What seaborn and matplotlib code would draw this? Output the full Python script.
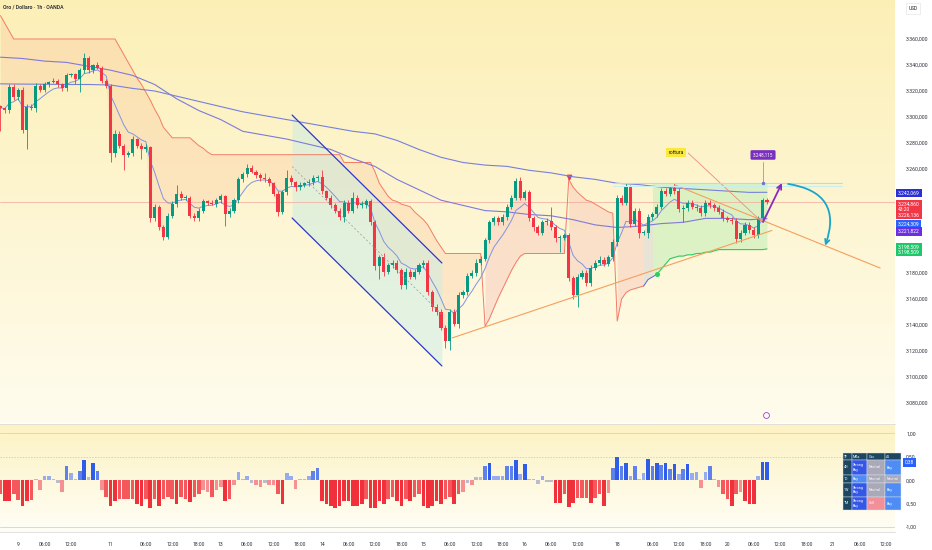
import matplotlib
matplotlib.use('Agg')
import matplotlib.pyplot as plt
import matplotlib.colors as mcolors
import matplotlib.transforms as mtransforms
from matplotlib.patches import FancyArrowPatch
import seaborn as sns
import numpy as np
import pandas as pd

# Oro / Dollaro 1h (OANDA)
closes = [3307, 3305, 3323, 3315, 3321, 3290, 3308, 3307, 3324, 3321,
          3325, 3327, 3328, 3325, 3322, 3332, 3333, 3329, 3336, 3345,
          3336, 3340, 3338, 3328, 3324, 3272, 3287, 3278, 3271, 3272,
          3283, 3278, 3275, 3277, 3222, 3231, 3215, 3208, 3224, 3233,
          3241, 3238, 3238, 3224, 3222, 3228, 3235, 3234, 3233, 3236,
          3239, 3225, 3228, 3236, 3252, 3256, 3261, 3258, 3255, 3253,
          3252, 3249, 3241, 3227, 3242, 3253, 3250, 3246, 3248, 3249,
          3250, 3253, 3254, 3243, 3238, 3232, 3228, 3223, 3234, 3228,
          3238, 3232, 3232, 3235, 3219, 3185, 3192, 3181, 3186, 3188,
          3182, 3171, 3181, 3177, 3181, 3186, 3188, 3165, 3154, 3150,
          3138, 3128, 3150, 3141, 3163, 3165, 3178, 3180, 3188, 3191,
          3205, 3219, 3222, 3219, 3223, 3231, 3238, 3251, 3238, 3242,
          3222, 3215, 3211, 3219, 3220, 3215, 3207, 3207, 3209, 3176,
          3163, 3177, 3180, 3172, 3184, 3188, 3190, 3187, 3192, 3204,
          3238, 3234, 3246, 3218, 3228, 3211, 3211, 3223, 3225, 3231,
          3243, 3241, 3245, 3243, 3229, 3230, 3234, 3231, 3230, 3226,
          3234, 3232, 3230, 3227, 3222, 3221, 3220, 3206, 3211, 3217,
          3213, 3209, 3222, 3236, 3234.86]
first_open = 3308.5

wick_up = [1, 1, 2, 2, 1, 2, 2, 2, 2, 1,
           2, 1, 2, 1, 1, 2, 1, 1, 2, 4,
           2, 1, 2, 1, 1, 1, 3, 2, 1, 2,
           2, 1, 2, 2, 1, 2, 1, 2, 2, 2,
           7, 2, 2, 1, 2, 2, 2, 1, 2, 2,
           2, 1, 2, 2, 2, 2, 3, 2, 1, 2,
           4, 2, 1, 2, 2, 6, 2, 1, 2, 1,
           2, 2, 1, 5, 1, 2, 2, 2, 2, 2,
           4, 2, 3, 2, 2, 2, 2, 3, 2, 2,
           2, 2, 3, 2, 2, 2, 2, 2, 2, 2,
           2, 2, 2, 2, 2, 2, 2, 2, 3, 2,
           2, 2, 2, 2, 2, 2, 2, 2, 3, 2,
           2, 2, 2, 2, 2, 11, 2, 2, 2, 2,
           2, 2, 2, 2, 2, 2, 3, 2, 2, 2,
           2, 2, 3, 2, 2, 2, 2, 2, 2, 2,
           2, 2, 2, 4, 2, 2, 2, 2, 2, 2,
           2, 2, 2, 2, 2, 2, 2, 2, 2, 2,
           2, 2, 2, 2, 2]
wick_dn = [18, 2, 2, 2, 2, 2, 15, 2, 3, 2,
           2, 2, 1, 2, 2, 2, 1, 4, 10, 2,
           2, 2, 1, 2, 2, 7, 3, 2, 12, 2,
           2, 2, 7, 2, 3, 2, 2, 3, 2, 2,
           2, 2, 2, 2, 2, 2, 2, 2, 1, 2,
           2, 9, 2, 2, 2, 2, 2, 1, 2, 2,
           2, 2, 2, 3, 2, 2, 2, 3, 2, 2,
           2, 2, 2, 2, 2, 2, 2, 2, 4, 2,
           2, 2, 2, 2, 2, 3, 10, 3, 2, 2,
           2, 3, 3, 2, 2, 2, 2, 2, 3, 2,
           2, 6, 7, 2, 3, 2, 2, 2, 2, 2,
           2, 2, 2, 2, 2, 2, 2, 2, 2, 2,
           2, 3, 2, 2, 2, 2, 3, 11, 2, 2,
           3, 9, 2, 2, 2, 2, 2, 2, 2, 3,
           3, 2, 2, 3, 2, 4, 2, 4, 2, 2,
           2, 2, 2, 2, 2, 10, 2, 2, 2, 2,
           2, 2, 2, 2, 2, 2, 2, 3, 2, 2,
           2, 2, 2, 2, 2]

# trailing band (step line)
band = [3378, 3372, 3366, 3360, 3360, 3360, 3360, 3360, 3360, 3360,
        3360, 3360, 3360, 3360, 3360, 3360, 3360, 3360, 3360, 3360,
        3360, 3360, 3360, 3360, 3360, 3360, 3360, 3354, 3348, 3342,
        3336, 3330, 3325, 3319, 3313, 3306, 3300, 3292, 3288, 3284,
        3284, 3284, 3284, 3284, 3281, 3278, 3276, 3273, 3271, 3271,
        3271, 3271, 3271, 3271, 3271, 3271, 3271, 3271, 3271, 3271,
        3271, 3271, 3271, 3271, 3271, 3271, 3271, 3271, 3271, 3271,
        3271, 3271, 3271, 3271, 3271, 3271, 3271, 3271, 3265, 3265,
        3265, 3265, 3265, 3265, 3265, 3258, 3249, 3244, 3239, 3236,
        3235, 3233, 3232, 3231, 3227, 3224, 3221, 3217, 3211, 3205,
        3200, 3195, 3195, 3195, 3195, 3195, 3195, 3195, 3195, 3195,
        3139, 3145, 3153, 3161, 3168, 3175, 3182, 3188, 3193, 3195,
        3195, 3195, 3195, 3195, 3195, 3195, 3195, 3195, 3195, 3252,
        3246, 3242, 3239, 3236, 3235, 3233, 3231, 3229, 3227, 3226,
        3143, 3160, 3165, 3167, 3168, 3169, 3170, 3175, 3177, 3179,
        3183, 3187, 3191, 3192, 3193, 3193, 3194, 3194, 3195, 3195,
        3196, 3196, 3197, 3198, 3198, 3198, 3198, 3198, 3198, 3198,
        3198, 3198, 3198, 3198, 3198.5]
green_zone_top = 3249

# slow averages, read every 5 bars
ma_bars = list(range(0, 171, 5)) + [174]
ma_fast50 = [3346, 3345, 3343, 3342, 3339, 3336, 3332, 3325, 3314, 3305,
             3298, 3289, 3286, 3283, 3279, 3275, 3268, 3262, 3252, 3244,
             3236, 3232, 3228, 3227, 3225, 3224, 3221, 3217, 3215, 3216,
             3218, 3219, 3222, 3222, 3221, 3221.8]
ma_slow200 = [3325.5, 3325.3, 3325.2, 3325, 3325, 3324.6, 3322, 3320, 3316, 3312,
              3308, 3304, 3301, 3298, 3295, 3292, 3289, 3287, 3282, 3275,
              3269, 3265, 3263, 3262, 3259, 3257, 3254, 3252, 3249, 3248,
              3246, 3245, 3244, 3243, 3242, 3242.07]

# technical rating histogram (lower panel)
rating = [-0.30, -0.45, -0.45, -0.30, -0.42, -0.56, -0.45, -0.42, 0.02, -0.20,
          0.10, 0.10, 0.02, -0.05, -0.25,
          0.30, 0.15, 0.02, 0.20, 0.43, 0.08, 0.36, 0.20,
          -0.20, -0.35, -0.55, -0.45, -0.40, -0.40, -0.40, -0.40, -0.50, -0.55,
          -0.40, -0.60, -0.40, -0.55, -0.40, -0.35, -0.40, -0.50, -0.35, -0.40,
          -0.47, -0.35, -0.30, -0.20, -0.25, -0.35, -0.20, -0.15, -0.45, -0.40, -0.10,
          0.17, 0.02, 0.10, -0.05, -0.10, -0.15, -0.05, -0.10, -0.10, -0.30,
          -0.50, 0.15, 0.10, -0.18, 0.02, 0.02, 0.10, 0.20, 0.27,
          -0.45, -0.50, -0.55, -0.60, -0.55, -0.45, -0.45, -0.55, -0.55, -0.50,
          -0.40, -0.60, -0.60, -0.45, -0.50, -0.40, -0.35, -0.45, -0.55, -0.40,
          -0.45, -0.35, -0.30, -0.55, -0.60, -0.55, -0.45, -0.50, -0.40, -0.35,
          -0.50, -0.30, -0.25,
          -0.05, -0.10, 0.08, 0.08, 0.30, 0.37, 0.10, 0.10, 0.10,
          0.30, 0.30, 0.43, 0.13, 0.35, 0.02, 0.02, -0.08, 0.10, -0.03, -0.03,
          -0.48, -0.48, -0.30, -0.58, -0.48, -0.38, -0.38, -0.38, -0.48, -0.38,
          -0.30, -0.55, -0.28,
          0.27, 0.50, 0.30, 0.37, 0.10, 0.30, 0.02,
          0.15, 0.45, 0.30, 0.37, 0.33, 0.37, 0.25, 0.35, 0.13, 0.25, 0.35, 0.15, 0.17,
          -0.17, 0.18, 0.30, 0.02,
          -0.15, -0.30, -0.40, -0.55, -0.30, -0.25, -0.45, -0.50, -0.50,
          0.10, 0.38, 0.38]

tick_bars = [4, 10, 16, 25, 33, 39, 45, 50, 56, 62, 68, 73, 79, 85, 91, 96, 102,
             108, 114, 119, 125, 131, 140, 148, 154, 160, 165, 171, 177, 183, 189, 195, 201]
tick_labels = ['9', '06:00', '12:00', '11', '06:00', '12:00', '18:00', '13', '06:00',
               '12:00', '18:00', '14', '06:00', '12:00', '18:00', '15', '06:00', '12:00',
               '18:00', '16', '06:00', '12:00', '18', '06:00', '12:00', '18:00', '20',
               '06:00', '12:00', '18:00', '21', '06:00', '12:00']
price_ticks = [3360, 3340, 3320, 3300, 3280, 3260, 3180, 3160, 3140, 3120, 3100, 3080]
osc_ticks = [1.0, 0.5, 0.0, -0.5, -1.0]

# drawn objects on the chart
chan_bars = [66.2, 100.2]
chan_top = [3301.5, 3187.7]
chan_bot = [3222.3, 3108.5]
support_bars = [102.5, 175.1]
support_line = [3130, 3212.7]
resist_bars = [153.1, 199.7]
resist_line = [3247.7, 3183.8]
break_bars = [156.1, 172.9]
break_line = [3272.3, 3219.2]
level_bars = [139.1, 191.0]
level_prices = [3249.2, 3247.0]

table_rows = [['TF', 'MAs', 'Osc', 'All'],
              ['4H', 'Strong\nBuy', 'Neutral', 'Buy'],
              ['1D', 'Buy', 'Neutral', 'Neutral'],
              ['1W', 'Strong\nBuy', 'Neutral', 'Buy'],
              ['1M', 'Strong\nBuy', 'Sell', 'Buy']]


def it_fmt(v, dec=3):
    s = f"{v:,.{dec}f}"
    return s.replace(',', '_').replace('.', ',').replace('_', '.')


def vgrad(ax, top, bottom):
    c1 = np.array(mcolors.to_rgb(top))
    c2 = np.array(mcolors.to_rgb(bottom))
    t = np.linspace(0, 1, 256)[:, None]
    img = (c1 * (1 - t) + c2 * t)[:, None, :]
    xl, yl = ax.get_xlim(), ax.get_ylim()
    ax.imshow(img, extent=(xl[0], xl[1], yl[0], yl[1]), aspect='auto',
              origin='upper', zorder=0)
    ax.set_xlim(xl)
    ax.set_ylim(yl)


sns.set_theme(style='white')
plt.rcParams['font.family'] = ['Roboto', 'DejaVu Sans']

df = pd.DataFrame({'close': closes})
df['bar'] = np.arange(len(df))
df['open'] = [first_open] + closes[:-1]
df['high'] = np.maximum(df['open'], df['close']) + np.array(wick_up)
df['low'] = np.minimum(df['open'], df['close']) - np.array(wick_dn)
df['band'] = band
df['ema'] = df['close'].ewm(span=7, adjust=False).mean()
x = df['bar'].values

fig = plt.figure(figsize=(9.32, 5.5), dpi=100)
fig.patch.set_facecolor('white')
W, H = 932, 550
ax = fig.add_axes([0, 1 - 423 / H, 895 / W, 423 / H])
axi = fig.add_axes([0, 1 - 532 / H, 895 / W, 108 / H])

xlim = (-0.11, 203.06)
ax.set_xlim(xlim)
ax.set_ylim(3064.6, 3390)
axi.set_xlim(xlim)
axi.set_ylim(-1.107, 1.203)
vgrad(ax, '#fcefb6', '#fffcee')
vgrad(axi, '#fcf2c2', '#fffef6')

# band fills
c = df['close'].values
b = df['band'].values
ax.fill_between(x[0:110], b[0:110], c[0:110], color='#fbc9a0', alpha=0.36, lw=0, zorder=1)
for s0, s1 in [(110, 129), (129, 140), (140, 147)]:
    ax.fill_between(x[s0:s1], b[s0:s1], c[s0:s1], color='#f6bdb4', alpha=0.38, lw=0, zorder=1)
ax.fill_between(x[146:149], b[146:149], c[146:149], color='#d5d5d5', alpha=0.55, lw=0, zorder=1)
ax.fill_between(x[148:], b[148:], green_zone_top, color='#c2efb8', alpha=0.55, lw=0, zorder=1)

# descending channel
ax.fill_between(chan_bars, chan_top, chan_bot, color='#c9ede4', alpha=0.5, lw=0, zorder=1.2)
ax.plot(chan_bars, chan_top, color='#2b39c9', lw=0.9, zorder=5)
ax.plot(chan_bars, chan_bot, color='#2b39c9', lw=0.9, zorder=5)
ax.plot(chan_bars, [(a + d) / 2 for a, d in zip(chan_top, chan_bot)],
        color='#9a9a9a', lw=0.5, ls=(0, (3, 3)), zorder=5)

# band line
ax.plot(x[0:147], b[0:147], color='#f47c66', lw=0.7, zorder=2)
ax.plot(x[146:150], b[146:150], color='#5468d8', lw=0.7, zorder=2)
ax.plot(x[149:], b[149:], color='#2fcc62', lw=0.8, zorder=2)
ax.plot([129], [3254], marker='v', color='#f23645', ms=3.2, zorder=3, ls='none')
ax.plot([149], [3179], marker='o', color='#2fcc62', ms=2.6, zorder=3, ls='none')

# averages
ma_df = pd.DataFrame({'bar': ma_bars, 'ma50': ma_fast50, 'ma200': ma_slow200})
sns.lineplot(data=ma_df, x='bar', y='ma50', ax=ax, color='#8079d9', lw=0.8, zorder=3)
sns.lineplot(data=ma_df, x='bar', y='ma200', ax=ax, color='#7780dd', lw=0.8, zorder=3)
sns.lineplot(data=df, x='bar', y='ema', ax=ax, color='#8094e2', lw=0.7, zorder=3)

# last price line
ax.axhline(closes[-1], color='#f4a59c', lw=0.5, zorder=1.5)

# candles
up = df['close'] >= df['open']
colors = np.where(up, '#089981', '#f23645')
ax.vlines(x, df['low'], df['high'], colors=colors, lw=0.6, zorder=4)
body = np.maximum((df['close'] - df['open']).abs(), 0.7)
ax.bar(x, body, bottom=np.minimum(df['open'], df['close']), width=0.7,
       color=colors, lw=0, zorder=4.5)

# trend lines and drawings
ax.plot(support_bars, support_line, color='#f5a05c', lw=0.8, zorder=5)
ax.plot(resist_bars, resist_line, color='#f5a05c', lw=0.8, zorder=5)
ax.plot(break_bars, break_line, color='#f08a80', lw=0.6, zorder=5)
ax.plot(level_bars, [level_prices[0]] * 2, color='#a6e4ea', lw=0.8, zorder=5)
ax.plot(level_bars, [level_prices[1]] * 2, color='#c7eff2', lw=0.8, zorder=5)

ax.annotate('', xy=(177.4, 3249.2), xytext=(173.1, 3219.2),
            arrowprops=dict(arrowstyle='->', color='#8a2bc0', lw=1.3,
                            mutation_scale=8, shrinkA=0, shrinkB=0), zorder=6)
arc = FancyArrowPatch((178.8, 3248.5), (187.2, 3201), connectionstyle='arc3,rad=-0.6',
                      arrowstyle='->', mutation_scale=8, color='#1aa6c8', lw=1.3,
                      shrinkA=0, shrinkB=0, zorder=6)
ax.add_patch(arc)

ax.plot([173.1, 173.1], [3265.4, 3249.6], color='#7c82d2', lw=0.5, zorder=6)
ax.plot([173.1], [3249.6], marker='o', color='#6d74cf', ms=1.5, zorder=6)
ax.text(173.1, 3270.8, it_fmt(3248.115), fontsize=3.3, color='white', ha='center',
        va='center', zorder=7,
        bbox=dict(boxstyle='round,pad=0.5,rounding_size=0.3', fc='#7b2fbe', ec='none'))
ax.text(153.4, 3272.7, 'rottura', fontsize=3.7, color='#1a1a1a', ha='center',
        va='center', zorder=7,
        bbox=dict(boxstyle='square,pad=0.4', fc='#fbe83c', ec='none'))
ax.plot([173.8], [3070.8], marker='o', mfc='white', mec='#a23bc9', mew=0.6,
        ms=4.2, zorder=6)

# price scale
ax.set_xticks([])
ax.set_yticks(price_ticks)
ax.set_yticklabels([it_fmt(v) for v in price_ticks])
ax.yaxis.set_ticks_position('right')
ax.tick_params(axis='y', length=0, pad=7.5, labelsize=3.7, labelcolor='#2a2e39')
ax.set_xlabel('')
ax.set_ylabel('')
for sp in ax.spines.values():
    sp.set_visible(False)

trans = mtransforms.blended_transform_factory(ax.transAxes, ax.transData)
tags = [(3241.5, it_fmt(3242.069), '#2b2fd4'),
        (3228.9, it_fmt(3234.860) + '\n43:20\n' + it_fmt(3226.136), '#f23645'),
        (3217.7, it_fmt(3224.309), '#2962ff'),
        (3211.9, it_fmt(3221.822), '#6a2fe0'),
        (3198.1, it_fmt(3198.509) + '\n' + it_fmt(3198.509), '#1ec76a')]
for yv, txt, col in tags:
    ax.text(1 + 3 / 895, yv, txt, transform=trans, fontsize=3.6, color='white',
            ha='left', va='center', linespacing=1.05, clip_on=False, zorder=8,
            bbox=dict(boxstyle='square,pad=0.35', fc=col, ec='none'))

# lower panel
axi.axhline(1.0, color='#d8d4c0', lw=0.6, zorder=1)
axi.axhline(0.5, color='#c8c4b0', lw=0.5, ls=(0, (2, 2)), zorder=1)
axi.axhline(-1.0, color='#d8d4c0', lw=0.6, zorder=1)


def rating_color(v):
    if abs(v) < 0.09:
        return '#b8bccd'
    if v > 0:
        return '#2f5de8' if v >= 0.35 else ('#5f82ea' if v >= 0.2 else '#98abee')
    return '#f0303a' if v <= -0.45 else ('#f4585c' if v <= -0.3 else '#f79092')


n = min(len(rating), len(x))
axi.bar(x[:n], rating[:n], width=0.82, color=[rating_color(v) for v in rating[:n]],
        lw=0, zorder=3)
axi.set_xticks(tick_bars)
axi.set_xticklabels(tick_labels)
axi.set_yticks(osc_ticks)
axi.set_yticklabels([it_fmt(v, 2) for v in osc_ticks])
axi.yaxis.set_ticks_position('right')
axi.tick_params(axis='y', length=0, pad=8, labelsize=3.7, labelcolor='#2a2e39')
axi.tick_params(axis='x', length=0, pad=7, labelsize=3.6, labelcolor='#2a2e39')
for name, sp in axi.spines.items():
    sp.set_visible(name in ('top', 'bottom'))
    sp.set_color('#dcdcdc')
    sp.set_linewidth(0.6)
transi = mtransforms.blended_transform_factory(axi.transAxes, axi.transData)
axi.text(1 + 10 / 895, rating[-1], it_fmt(rating[-1], 2), transform=transi, fontsize=3.6,
         color='white', ha='left', va='center', clip_on=False, zorder=8,
         bbox=dict(boxstyle='square,pad=0.35', fc='#2962ff', ec='none'))

# ratings table
ax_tab = fig.add_axes([843 / W, 1 - 510 / H, 58 / W, 57 / H])
ax_tab.axis('off')
cell_cols = {'TF': '#1d4660', 'MAs': '#1d4660', 'Osc': '#1d4660', 'All': '#1d4660',
             'Strong\nBuy': '#3557e6', 'Buy': '#4f8df5', 'Neutral': '#a9a9b9',
             'Sell': '#f2909a', '4H': '#1d4660', '1D': '#1d4660', '1W': '#1d4660',
             '1M': '#1d4660'}
tbl = ax_tab.table(cellText=table_rows,
                   cellColours=[[cell_cols[v] for v in r] for r in table_rows],
                   colWidths=[9, 15, 18, 16], cellLoc='left', bbox=[0, 0, 1, 1])
tbl.auto_set_font_size(False)
tbl.set_fontsize(2.6)
row_h = [7, 15, 8, 14, 13]
for (r, cc), cell in tbl.get_celld().items():
    cell.set_height(row_h[r])
    cell.set_edgecolor('#dfe6ee')
    cell.set_linewidth(0.3)
    cell.PAD = 0.08
    cell.get_text().set_color('white')

# header texts
fig.text(3 / W, 1 - 7 / H, 'Oro / Dollaro · 1h · OANDA', fontsize=3.7,
         color='#131722', va='center', ha='left', fontweight='medium')
fig.text(913 / W, 1 - 8.5 / H, 'USD', fontsize=3.4, color='#131722', va='center',
         ha='center', bbox=dict(boxstyle='square,pad=0.6', fc='white', ec='#e0e0e0', lw=0.4))

fig.savefig('out.png', dpi=100)
